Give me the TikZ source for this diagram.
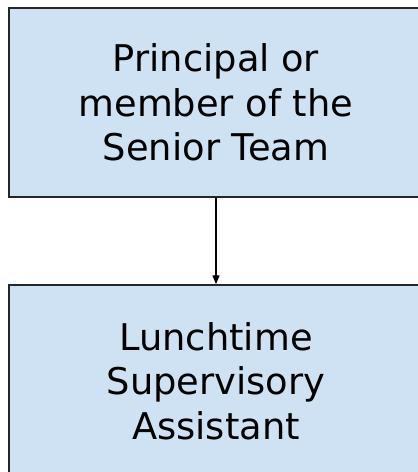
\documentclass[tikz,border=0pt]{standalone}
\usepackage{fontspec}
\setmainfont{DejaVu Sans}
\usepackage{tikz}
\usetikzlibrary{arrows.meta}
\definecolor{boxblue}{HTML}{CFE2F3}
\tikzstyle{role}=[draw=black!85, line width=1.5pt, fill=boxblue, align=center, inner sep=0pt, minimum width=414pt, font=\fontsize{36.8}{44.5}\selectfont]
\tikzstyle{reports}=[-{Triangle[length=9pt, width=7pt]}, line width=1.3pt]

\begin{document}
\begin{tikzpicture}[x=1pt, y=1pt]
        \useasboundingbox (0, 0) rectangle (418, -472);
        \node[role, minimum height=189pt] (senior) at (216, -102.5) {Principal or\\member of the\\Senior Team};
        \node[role, minimum height=192pt] (lunch) at (216, -381) {Lunchtime\\Supervisory\\Assistant};
        \draw[reports] (senior) -- (lunch);
    \end{tikzpicture}
\end{document}
